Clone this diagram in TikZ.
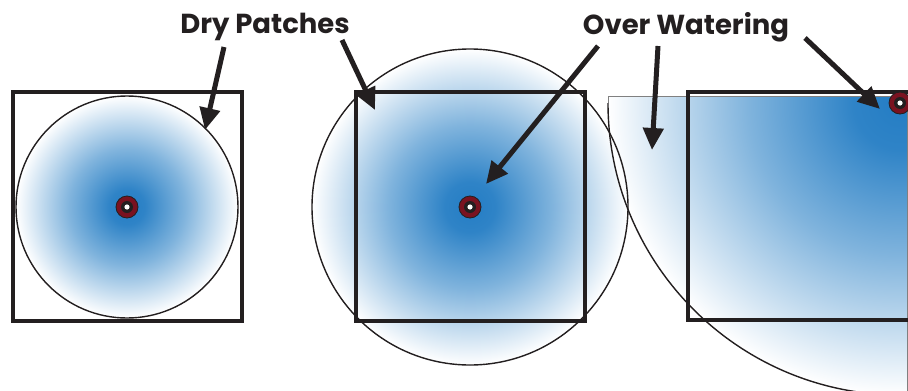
\documentclass[tikz,border=0pt]{standalone}
\usepackage{fontspec}
\setmainfont{Poppins}
\usetikzlibrary{arrows.meta}
\definecolor{spblue}{RGB}{36,125,196}
\definecolor{spred}{RGB}{122,18,32}
\definecolor{ink}{RGB}{35,31,32}
\pgfdeclareradialshading{wet}{\pgfpoint{0bp}{0bp}}{color(0bp)=(spblue); color(4bp)=(spblue!95); color(13bp)=(spblue!58); color(25bp)=(white); color(50bp)=(white)}
\tikzset{
  plot/.style={draw=ink, line width=4.5pt},
  spray/.style={draw=ink, line width=1.4pt},
  callout/.style={draw=ink, line width=5pt, -{Triangle[length=22pt,width=20pt]}},
  label/.style={font=\fontsize{27.5}{31}\selectfont\bfseries, text=ink, inner sep=0pt},
  sprink/.pic={
    \fill[spred] (0,0) circle[radius=11];
    \draw[ink, line width=0.8pt] (0,0) circle[radius=11];
    \fill[ink] (0,0) circle[radius=6];
    \fill[white] (0,0) circle[radius=2.6];
  }
}
\begin{document}
\begin{tikzpicture}[x=1pt,y=-1pt]
\useasboundingbox (0,0) rectangle (908,391);
\clip (0,0) rectangle (908,391);
% fills
\fill[shading=wet] (127,207) circle[radius=111];
\fill[shading=wet] (470,207) circle[radius=158];
\begin{scope}
  \clip (908,96) -- (608,96) -- (608,103) arc[start angle=180, end angle=90, radius=292] -- (908,395) -- cycle;
  \fill[shading=wet] (900,103) circle[radius=292];
\end{scope}
% outlines
\draw[spray] (127,207) circle[radius=111];
\draw[spray] (470,207) circle[radius=158];
\draw[gray, line width=0.9pt] (907,96) -- (608,96) -- (608,103);
\draw[spray] (608,103) arc[start angle=180, end angle=90, radius=292];
\draw[gray, line width=0.9pt] (907,96) -- (907,391);
% squares
\draw[plot] (13,92) rectangle (242,321);
\draw[plot] (356,92) rectangle (585,321);
\draw[plot] (688,92) rectangle (930,320);
% sprinklers
\pic at (127,207) {sprink};
\pic at (470,207) {sprink};
\pic at (900,103) {sprink};
% labels
\node[label] (dry) at (265,27) {Dry Patches};
\node[label] (over) at (686,27) {Over Watering};
% callouts
\coordinate (d1s) at (224,47);  \coordinate (d1e) at (205,130);
\coordinate (d2s) at (342,40);  \coordinate (d2e) at (375,110);
\coordinate (o1s) at (598,46);  \coordinate (o1e) at (486,184);
\coordinate (o2s) at (658,46);  \coordinate (o2e) at (652,150);
\coordinate (o3s) at (805,38);  \coordinate (o3e) at (880,109);
\draw[callout] (d1s) -- (d1e);
\draw[callout] (d2s) -- (d2e);
\draw[callout] (o1s) -- (o1e);
\draw[callout] (o2s) -- (o2e);
\draw[callout] (o3s) -- (o3e);
\end{tikzpicture}
\end{document}
